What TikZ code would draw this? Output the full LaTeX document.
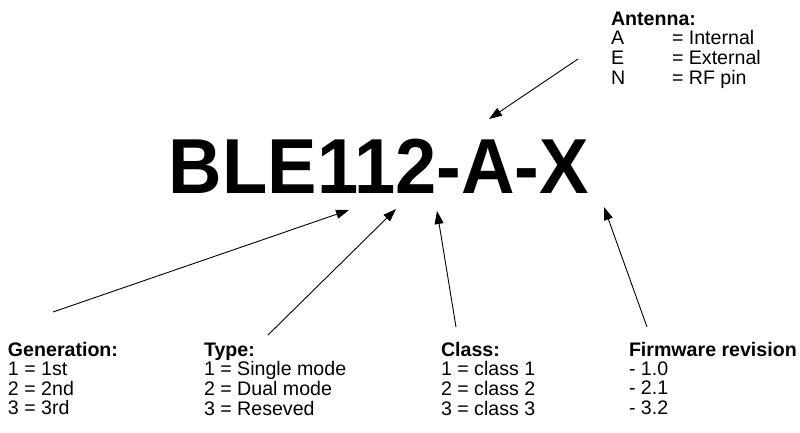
\documentclass[tikz,border=0pt]{standalone}
\usepackage{fontspec}
\setmainfont{Liberation Sans}
\usepackage{graphicx}
\usetikzlibrary{arrows.meta}
\tikzset{
  blk/.style={anchor=base west, inner sep=0pt, outer sep=0pt, font=\fontsize{19.6}{19}\selectfont},
  ptr/.style={line width=0.9pt, -{Triangle[length=13pt,width=9pt]}},
}
\begin{document}
\begin{tikzpicture}[x=1pt,y=-1pt]
\useasboundingbox (0,0) rectangle (800,432);
% title
\node[anchor=base, inner sep=0pt] (title) at (379,193)
  {\scalebox{0.95}[1]{\fontsize{78}{78}\selectfont\bfseries BLE112-A-X}};
% antenna block
\node[blk] (ant) at (611,25) {\begin{tabular}[t]{@{}p{61pt}@{}l@{}}
\multicolumn{2}{@{}l@{}}{\bfseries Antenna:}\\
A & = Internal\\
E & = External\\
N & = RF pin
\end{tabular}};
% bottom blocks
\node[blk] (gen) at (8,356) {\begin{tabular}[t]{@{}l@{}}
\bfseries Generation:\\ 1 = 1st\\ 2 = 2nd\\ 3 = 3rd
\end{tabular}};
\node[blk] (type) at (204,356) {\begin{tabular}[t]{@{}l@{}}
\bfseries Type:\\ 1 = Single mode\\ 2 = Dual mode\\ 3 = Reseved
\end{tabular}};
\node[blk] (class) at (441,356) {\begin{tabular}[t]{@{}l@{}}
\bfseries Class:\\ 1 = class 1\\ 2 = class 2\\ 3 = class 3
\end{tabular}};
\node[blk] (fw) at (629,356) {\begin{tabular}[t]{@{}l@{}}
\bfseries Firmware revision\\ - 1.0\\ - 2.1\\ - 3.2
\end{tabular}};
% connector ends
\coordinate (antS) at (578,59);
\coordinate (antT) at (489,119);
\coordinate (genS) at (53,312);
\coordinate (genT) at (349,210);
\coordinate (typeS) at (268,335);
\coordinate (typeT) at (396,209);
\coordinate (classS) at (456,327);
\coordinate (classT) at (437,211);
\coordinate (fwS) at (647,327);
\coordinate (fwT) at (604,207);
\draw[ptr] (antS) -- (antT);
\draw[ptr] (genS) -- (genT);
\draw[ptr] (typeS) -- (typeT);
\draw[ptr] (classS) -- (classT);
\draw[ptr] (fwS) -- (fwT);
\end{tikzpicture}
\end{document}
